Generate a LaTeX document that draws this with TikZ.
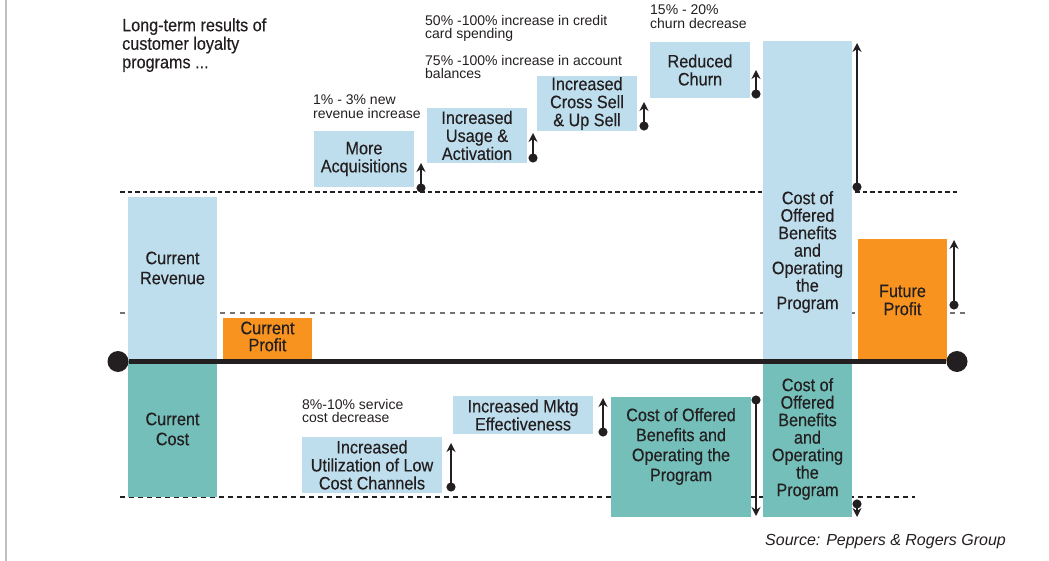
\documentclass[tikz,border=0pt]{standalone}
\usepackage{fontspec}
\setmainfont{Liberation Sans}
\newfontfamily\narrowfont{Liberation Sans}[FakeStretch=0.9,FakeBold=0.3]
\usetikzlibrary{arrows.meta}
\definecolor{sky}{RGB}{190,222,237}
\definecolor{sea}{RGB}{116,191,185}
\definecolor{amber}{RGB}{247,147,30}
\definecolor{ink}{RGB}{35,31,32}
\def\boxfont#1{\narrowfont\fontsize{18}{#1}\selectfont}
\tikzset{
  boxtext/.style={font=\boxfont{18}, text=ink, align=center, inner sep=0pt},
  skybox/.style={boxtext, fill=sky},
  seabox/.style={boxtext, fill=sea},
  amberbox/.style={boxtext, fill=amber},
  note/.style={font=\fontsize{14}{13.5}\selectfont, text=ink, align=left, inner sep=0pt, anchor=north west},
  rise/.style={ink, line width=1.8pt, {Circle[length=9pt]}-{Stealth[length=9pt,width=9pt]}},
  endball/.style={circle, fill=ink, inner sep=0pt, minimum size=21pt},
}
\begin{document}
\begin{tikzpicture}[x=1pt,y=-1pt]
\useasboundingbox (0,0) rectangle (1049,561);
\draw[black!25, line width=2.5pt] (6,0) -- (6,561);
%guides
\draw[ink, line width=2pt, dash pattern=on 4.5pt off 3pt] (120,192) -- (957,192);
\draw[black!55, line width=1.1pt, dash pattern=on 5pt off 5pt] (120,313) -- (967,313);
\draw[ink, line width=1.1pt, dash pattern=on 4.5pt off 4.5pt] (120,497) -- (915,497);
%now
\node[skybox, minimum width=89, minimum height=164] (rev) at (172.5,279) {};
\node[boxtext, font=\boxfont{20}] (revtext) at (172.5,268) {Current\\Revenue};
\node[seabox, font=\boxfont{20}, minimum width=89, minimum height=136] (cost) at (172.5,429) {Current\\Cost};
\node[amberbox, minimum width=89, minimum height=43] (profit) at (267.5,339.5) {};
\node[boxtext, font=\boxfont{17}] (profittext) at (267.5,336.5) {Current\\Profit};
%revenue side
\node[skybox, minimum width=100, minimum height=56] (acq) at (364,159) {More\\Acquisitions};
\node[skybox, minimum width=100, minimum height=55] (usage) at (477,135.5) {Increased\\Usage \&\\Activation};
\node[skybox, minimum width=100, minimum height=55] (cross) at (587,103.5) {Increased\\Cross Sell\\\& Up Sell};
\node[skybox, minimum width=100, minimum height=56] (churn) at (700,70) {Reduced\\Churn};
\node[skybox, minimum width=89, minimum height=320] (benefit) at (807.5,201) {};
\node[boxtext, font=\boxfont{17.5}] (benefittext) at (807.5,252) {Cost of\\Offered\\Benefits\\and\\Operating\\the\\Program};
\node[amberbox, minimum width=89, minimum height=122] (future) at (902.5,300) {Future\\Profit};
%cost side
\node[skybox, minimum width=140, minimum height=56] (lowcost) at (372,465) {Increased\\Utilization of Low\\Cost Channels};
\node[skybox, minimum width=140, minimum height=38] (mktg) at (523,415) {Increased Mktg\\Effectiveness};
\node[seabox, minimum width=140, minimum height=120] (operate) at (681,457) {};
\node[boxtext, font=\boxfont{20}] (operatetext) at (681,446.5) {Cost of Offered\\Benefits and\\Operating the\\Program};
\node[seabox, font=\boxfont{17.5}, minimum width=89, minimum height=156] (benefitcost) at (807.5,439) {Cost of\\Offered\\Benefits\\and\\Operating\\the\\Program};
%axis
\node[endball] (left) at (118,361.5) {};
\node[endball] (right) at (957,361.5) {};
\draw[ink, line width=4.5pt] (left) -- (right);
%steps
\draw[rise] (421,192.5) -- (421,163);
\draw[rise] (533,162.5) -- (533,133);
\draw[rise] (644,130.5) -- (644,102);
\draw[rise] (756,98.5) -- (756,70);
\draw[rise] (857,191.5) -- (857,43);
\draw[rise] (954,309.5) -- (954,240);
\draw[rise] (451,491.5) -- (451,443);
\draw[rise] (603,436.5) -- (603,398);
\draw[rise] (756,395.5) -- (756,516);
\draw[rise] (857,499.5) -- (857,517);
%texts
\node[note, font=\boxfont{18.5}] (title) at (122,18) {Long-term results of\\customer loyalty\\programs ...};
\node[note] (newrev) at (313,95) {1\% - 3\% new\\revenue increase};
\node[note] (credit) at (425,15) {50\% -100\% increase in credit\\card spending};
\node[note] (balance) at (425,55) {75\% -100\% increase in account\\balances};
\node[note] (churnnote) at (650,5) {15\% - 20\%\\churn decrease};
\node[note] (service) at (302,399) {8\%-10\% service\\cost decrease};
\node[anchor=base west, inner sep=0pt, text=ink, font=\itshape\fontsize{16}{16}\selectfont] (source) at (765,545) {Source: Peppers \& Rogers Group};
\end{tikzpicture}
\end{document}
